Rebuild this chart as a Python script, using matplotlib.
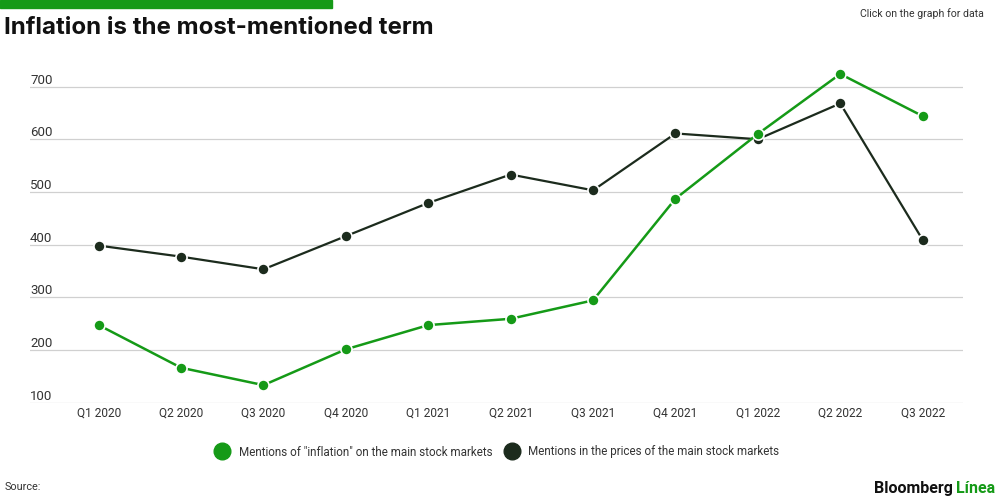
import matplotlib.pyplot as plt
from matplotlib.lines import Line2D
from matplotlib.patches import Rectangle
import matplotlib.transforms as mtransforms

plt.rcParams['font.family'] = ['Roboto', 'DejaVu Sans']

quarters = ['Q1 2020', 'Q2 2020', 'Q3 2020', 'Q4 2020', 'Q1 2021', 'Q2 2021',
            'Q3 2021', 'Q4 2021', 'Q1 2022', 'Q2 2022', 'Q3 2022']
inflation = [247, 166, 133, 201, 247, 259, 294, 487, 610, 724, 644]
prices = [398, 377, 353, 416, 479, 533, 503, 611, 600, 668, 409]
yticks = [100, 200, 300, 400, 500, 600, 700]

green = '#159a17'
dark = '#1c2b1d'

fig = plt.figure(figsize=(10, 5), dpi=100)
ax = fig.add_axes([0.03, 0.195, 0.933, 0.695])

x = list(range(len(quarters)))
ax.plot(x, prices, color=dark, lw=1.6, marker='o', ms=8,
        mfc=dark, mec='white', mew=1.2, zorder=3)
ax.plot(x, inflation, color=green, lw=1.8, marker='o', ms=8,
        mfc=green, mec='white', mew=1.2, zorder=4)

ax.set_xlim(-0.834, 10.49)
ax.set_ylim(100, 760)
ax.set_yticks(yticks)
ax.yaxis.grid(True, color='#d0d0d0', lw=0.9)
ax.set_axisbelow(True)
ax.tick_params(axis='y', length=0, labelleft=False)
for s in ax.spines.values():
    s.set_visible(False)

# y labels sit above the grid lines, at the left edge
trans = mtransforms.blended_transform_factory(ax.transAxes, ax.transData)
for v in yticks:
    ax.text(0.0, v, str(v), transform=trans, ha='left', va='bottom',
            fontsize=9.5, color='#333333')

ax.set_xticks(x)
ax.set_xticklabels(quarters, fontsize=8.6, color='#333333')
ax.tick_params(axis='x', length=0, pad=3)

# top green bar
fig.patches.append(Rectangle((0, 0.985), 0.332, 0.015, transform=fig.transFigure,
                             color=green, zorder=5))

fig.text(0.004, 0.945, 'Inflation is the most-mentioned term', fontsize=17.3,
         fontweight='bold', family=['Inter', 'DejaVu Sans'],
         color='#111111', va='center', ha='left')
fig.text(0.984, 0.973, 'Click on the graph for data', fontsize=7.6,
         color='#333333', va='center', ha='right')

handles = [Line2D([], [], ls='none', marker='o', ms=12, color=green),
           Line2D([], [], ls='none', marker='o', ms=12, color=dark)]
labels = ['Mentions of "inflation" on the main stock markets',
          'Mentions in the prices of the main stock markets']
fig.legend(handles, labels, loc='center', bbox_to_anchor=(0.495, 0.096),
           ncol=2, frameon=False, fontsize=8.4, handletextpad=0.4,
           columnspacing=0.7, labelcolor='#333333')

fig.text(0.005, 0.025, 'Source:', fontsize=7.8, color='#333333', va='center')

t2 = fig.text(0.995, 0.023, 'Línea', fontsize=11.5, fontweight='bold',
              color=green, va='center', ha='right')
fig.canvas.draw()
bb = t2.get_window_extent()
fig.text(bb.x0 / fig.bbox.width - 0.003, 0.023, 'Bloomberg', fontsize=11.5,
         fontweight='bold', color='#111111', va='center', ha='right')

fig.savefig('out.png', dpi=100)
